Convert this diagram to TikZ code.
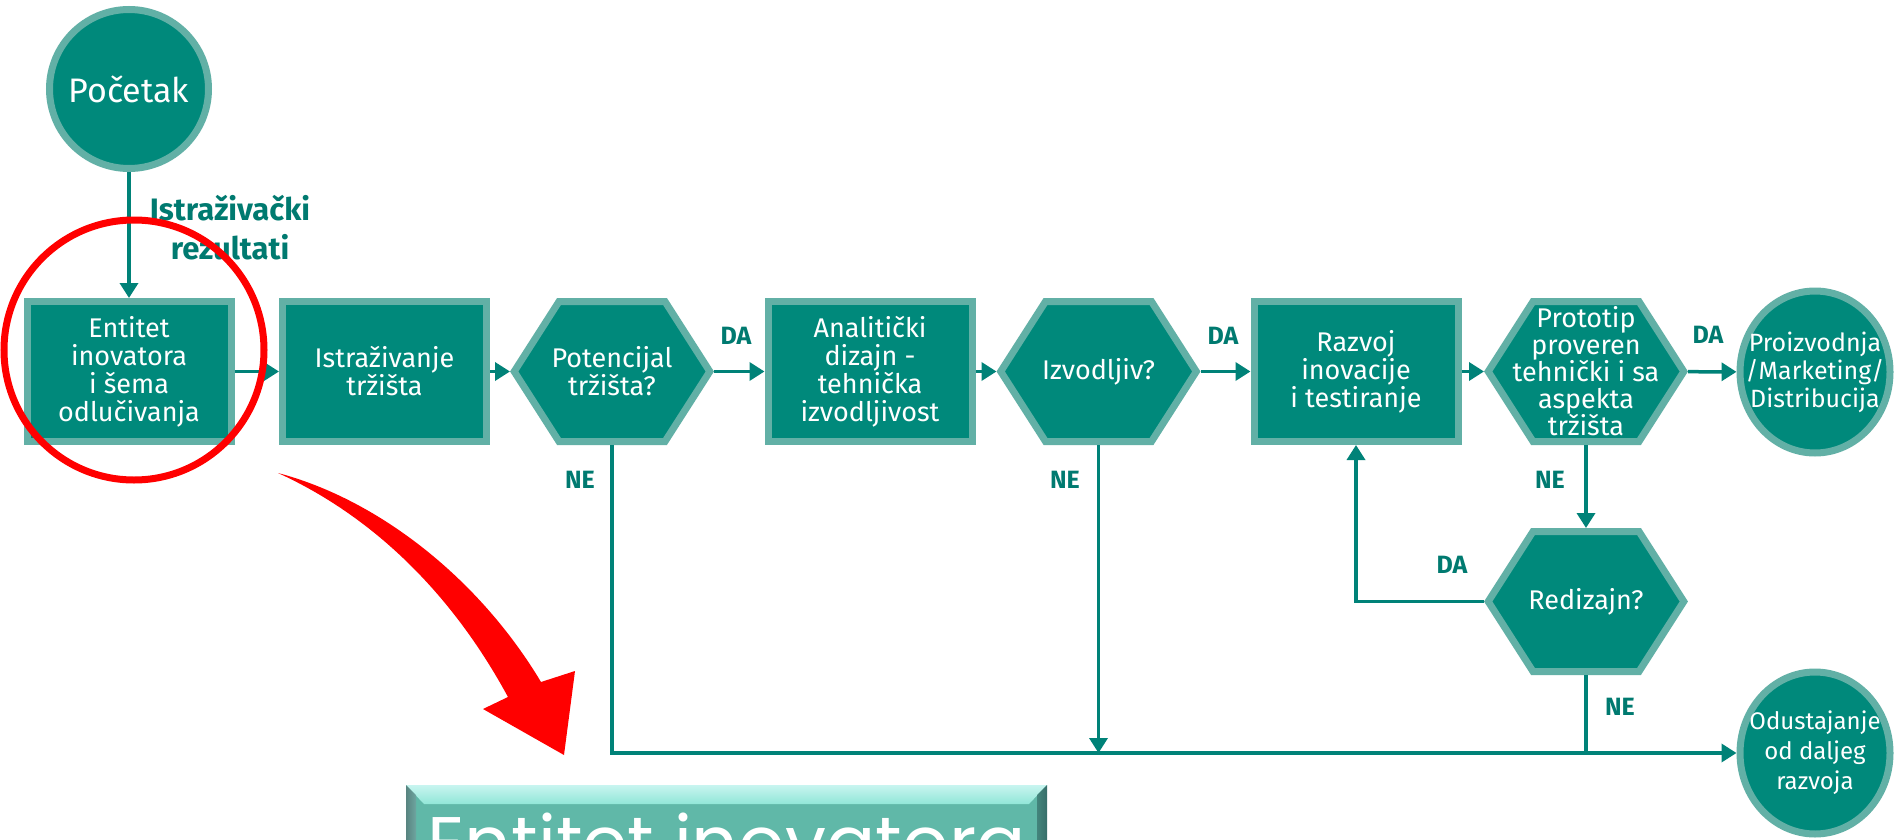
\documentclass[tikz,border=0pt]{standalone}
\usepackage{fontspec}
\setmainfont{Fira Sans}
\newfontfamily\bigfont{Poppins}
\usetikzlibrary{shapes.geometric, arrows.meta}

\definecolor{tealfill}{RGB}{0,137,123}
\definecolor{tealedge}{RGB}{98,176,166}
\definecolor{tealline}{RGB}{0,130,120}
\definecolor{teallabel}{RGB}{0,122,112}
\definecolor{bevelmain}{RGB}{96,184,168}
\definecolor{beveltop}{RGB}{145,230,215}
\definecolor{bevelrim}{RGB}{200,245,240}
\definecolor{bevelleft}{RGB}{110,165,160}
\definecolor{bevelright}{RGB}{55,110,105}

\begin{document}
\begin{tikzpicture}[x=1pt, y=-1pt,
  stepbox/.style={rectangle, draw=tealedge, fill=tealfill, line width=7pt,
    minimum width=204pt, minimum height=140pt, inner sep=0pt, align=center,
    text=white, font=\fontsize{27}{28}\selectfont},
  hexbox/.style={rectangle, minimum width=204pt, minimum height=147pt,
    inner sep=0pt, outer sep=0pt, align=center, text=white,
    font=\fontsize{27}{28}\selectfont,
    path picture={\draw[draw=tealedge, fill=tealfill, line width=7pt]
      ([xshift=4.2pt]path picture bounding box.west)
      -- ([xshift=49pt,yshift=-3.5pt]path picture bounding box.north west)
      -- ([xshift=-49pt,yshift=-3.5pt]path picture bounding box.north east)
      -- ([xshift=-4.2pt]path picture bounding box.east)
      -- ([xshift=-49pt,yshift=3.5pt]path picture bounding box.south east)
      -- ([xshift=49pt,yshift=3.5pt]path picture bounding box.south west)
      -- cycle;}},
  startnode/.style={circle, draw=tealedge, fill=tealfill, line width=7pt,
    minimum size=159pt, inner sep=0pt, text=white,
    font=\fontsize{34}{36}\selectfont},
  endnode/.style={ellipse, draw=tealedge, fill=tealfill, line width=7pt,
    minimum width=150pt, minimum height=162pt, inner xsep=-20pt,
    inner ysep=0pt, align=center, text=white,
    font=\fontsize{25}{28}\selectfont},
  flow/.style={draw=tealline, line width=3.5pt},
  arr/.style={flow, -{Triangle[width=18pt, length=15pt]}},
  answer/.style={text=teallabel, inner sep=0pt,
    font=\bfseries\fontsize{25}{25}\selectfont}]
  \useasboundingbox (0,0) rectangle (1901,840);
  \clip (0,0) rectangle (1901,840);
  \fill[white] (0,0) rectangle (1901,840);

  % flow chart
  \node[startnode] (S) at (129,89) {Početak};
  \node[stepbox] (E1) at (129,371.5) {Entitet\\inovatora\\i šema\\odlučivanja};
  \node[stepbox] (E2) at (384.5,371.5) {Istraživanje\\tržišta};
  \node[hexbox] (H1) at (612,371.5) {Potencijal\\tržišta?};
  \node[stepbox] (E3) at (870,371.5) {Analitički\\dizajn -\\tehnička\\izvodljivost};
  \node[hexbox] (H2) at (1098.5,371.5) {Izvodljiv?};
  \node[stepbox] (E4) at (1356,371.5) {Razvoj\\inovacije\\i testiranje};
  \node[hexbox, font=\fontsize{27}{27}\selectfont] (H3) at (1586,371.5) {Prototip\\proveren\\tehnički i sa\\aspekta\\tržišta};
  \node[endnode] (P) at (1815,372) {Proizvodnja\\/Marketing/\\Distribucija};
  \node[hexbox] (H4) at (1586,601.5) {Redizajn?};
  \node[endnode, font=\fontsize{24}{30}\selectfont] (O) at (1815,753) {Odustajanje\\od daljeg\\razvoja};

  % labels
  \node[answer, align=center, font=\bfseries\fontsize{31}{39}\selectfont] (R) at (230,228) {Istraživački\\rezultati};
  \node[answer] (DA1) at (736,336) {DA};
  \node[answer] (DA2) at (1223,336) {DA};
  \node[answer] (DA3) at (1708,335) {DA};
  \node[answer] (DA4) at (1452,565) {DA};
  \node[answer] (NE1) at (580,480) {NE};
  \node[answer] (NE2) at (1065,480) {NE};
  \node[answer] (NE3) at (1550,480) {NE};
  \node[answer] (NE4) at (1620,707) {NE};

  % connectors
  \draw[arr] (S) -- (E1);
  \draw[arr] (E1) -- (E2);
  \draw[arr] (E2) -- (H1);
  \draw[arr] (H1) -- (E3);
  \draw[arr] (E3) -- (H2);
  \draw[arr] (H2) -- (E4);
  \draw[arr] (E4) -- (H3);
  \draw[arr] (H3) -- (P);
  \draw[arr] (H3) -- (H4);
  \draw[arr] (H4.west) -| (E4.south);
  \draw[arr] (H1.south) |- (O);
  \coordinate (J2) at (H2.south |- O.west);
  \coordinate (J4) at (H4.south |- O.west);
  \draw[arr] (H2.south) -- (J2);
  \draw[flow] (H4.south) -- (J4);

  % bevelled box at the bottom
  \fill[bevelmain] (406,785) rectangle (1047,860);
  \shade[top color=bevelrim, bottom color=beveltop] (406,785) -- (1047,785) -- (1029,804) -- (424,804) -- cycle;
  \shade[left color=bevelleft!80!black, right color=bevelleft] (406,785) -- (416,795) -- (416,860) -- (406,860) -- cycle;
  \shade[left color=bevelright!70!bevelmain, right color=bevelright] (1047,785) -- (1037,795) -- (1037,860) -- (1047,860) -- cycle;
  \node[text=white, font=\bigfont\fontsize{73}{73}\selectfont, anchor=base, inner sep=0pt] (T) at (726.5,868) {Entitet inovatora};

  % red highlight
  \draw[red, line width=7pt] (134,350) circle[radius=130pt];
  \fill[red] (278,473) .. controls (380,500) and (480,580) .. (541,682)
    -- (575,671) -- (564,755) -- (483,709) -- (508,697)
    .. controls (450,590) and (370,515) .. (278,473) -- cycle;
\end{tikzpicture}
\end{document}
